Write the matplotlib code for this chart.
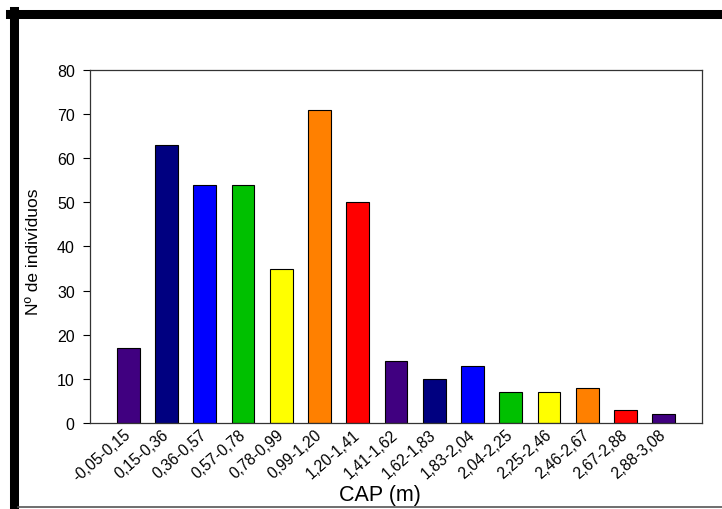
import matplotlib.pyplot as plt
from matplotlib.lines import Line2D

plt.rcParams['font.family'] = ['Liberation Sans', 'DejaVu Sans']

classes = ['-0,05-0,15', '0,15-0,36', '0,36-0,57', '0,57-0,78', '0,78-0,99',
           '0,99-1,20', '1,20-1,41', '1,41-1,62', '1,62-1,83', '1,83-2,04',
           '2,04-2,25', '2,25-2,46', '2,46-2,67', '2,67-2,88', '2,88-3,08']
counts = [17, 63, 54, 54, 35, 71, 50, 14, 10, 13, 7, 7, 8, 3, 2]
palette = ['#400080', '#000080', '#0000ff', '#00c000', '#ffff00', '#ff8000', '#ff0000']
yticks = [0, 10, 20, 30, 40, 50, 60, 70, 80]

colors = [palette[i % len(palette)] for i in range(len(counts))]

fig = plt.figure(figsize=(7.22, 5.10), dpi=100)
ax = fig.add_axes([90/722, 1-424/510, 612/722, 353/510])

ax.bar(range(len(counts)), counts, width=0.6, color=colors, edgecolor='black', linewidth=0.8)
ax.set_xlim(-1, 15)
ax.set_ylim(0, 80)
ax.set_yticks(yticks)
ax.set_xticks(range(len(classes)))
ax.set_xticklabels(classes, rotation=41, ha='right', va='center', rotation_mode='anchor', fontsize=11.2)
ax.tick_params(axis='y', labelsize=11.5, length=5, direction='out', pad=6)
ax.tick_params(axis='x', length=0, pad=6.5)
for s in ax.spines.values():
    s.set_linewidth(0.9)
    s.set_color('#333333')

fig.text(34/722, 1-252/510, 'Nº de indivíduos', fontsize=12.5, rotation=90, ha='center', va='center')
fig.text(380/722, 1-496/510, 'CAP (m)', fontsize=15.5, ha='center', va='center')

# black frame around the picture
fig.add_artist(Line2D([10/722, 1], [1-15/510, 1-15/510], color='black', linewidth=6.5, transform=fig.transFigure))
fig.add_artist(Line2D([14/722, 14/722], [0, 1-12/510], color='black', linewidth=6.5, transform=fig.transFigure))
fig.add_artist(Line2D([18/722, 1], [1-508/510, 1-508/510], color='#555555', linewidth=1.2, transform=fig.transFigure))

fig.savefig('out.png', dpi=100)
